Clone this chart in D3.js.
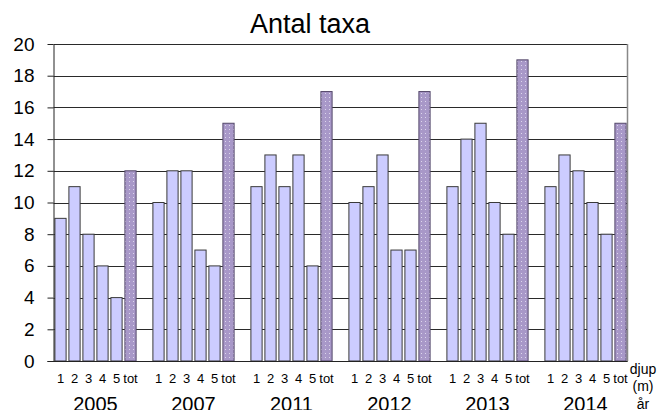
<!DOCTYPE html>
<html>
<head>
<meta charset="utf-8">
<script src="https://cdn.jsdelivr.net/npm/d3@7"></script>
<style>
  html, body { margin: 0; padding: 0; background: #fff; }
  svg { display: block; font-family: Arial, "Liberation Sans", sans-serif; }
</style>
</head>
<body>
<svg id="chart" width="658" height="410"></svg>
<script>
// Number of taxa per sampling depth (1–5 m) and in total, per year
const years = ["2005", "2007", "2011", "2012", "2013", "2014"];
const depths = ["1", "2", "3", "4", "5", "tot"];
const values2005 = [9, 11, 8, 6, 4, 12];
const values2007 = [10, 12, 12, 7, 6, 15];
const values2011 = [11, 13, 11, 13, 6, 17];
const values2012 = [10, 11, 13, 7, 7, 17];
const values2013 = [11, 14, 15, 10, 8, 19];
const values2014 = [11, 13, 12, 10, 8, 15];
const seriesByYear = [values2005, values2007, values2011, values2012, values2013, values2014];
const yTicks = [0, 2, 4, 6, 8, 10, 12, 14, 16, 18, 20];

const svg = d3.select("#chart");
const plot = { left: 53.5, right: 627.5, top: 44, bottom: 361 };

// One slot per bar, with an empty slot separating consecutive years
const slots = [];
years.forEach((yr, i) => {
  depths.forEach(d => slots.push(yr + "|" + d));
  if (i < years.length - 1) slots.push(yr + "|gap");
});

const x = d3.scaleBand()
  .domain(slots)
  .range([plot.left, plot.right])
  .paddingInner(0.2)
  .paddingOuter(0.1);

const y = d3.scaleLinear().domain([0, 20]).range([plot.bottom, plot.top]);

// Dotted fill for the total bars
const defs = svg.append("defs");
const pat = defs.append("pattern")
  .attr("id", "dots")
  .attr("patternUnits", "userSpaceOnUse")
  .attr("width", 4).attr("height", 4);
pat.append("rect").attr("width", 4).attr("height", 4).attr("fill", "#a898c8");
pat.append("rect").attr("x", 1).attr("y", 1).attr("width", 1).attr("height", 1).attr("fill", "#ddd6ec");

// Horizontal gridlines
svg.append("g")
  .selectAll("line")
  .data(yTicks)
  .join("line")
  .attr("x1", plot.left)
  .attr("x2", plot.right)
  .attr("y1", d => Math.round(y(d)) + 0.5)
  .attr("y2", d => Math.round(y(d)) + 0.5)
  .attr("stroke", "#2a2a2a")
  .attr("stroke-width", 1);

// Right border of the plot area
svg.append("line")
  .attr("x1", plot.right).attr("x2", plot.right)
  .attr("y1", plot.top).attr("y2", plot.bottom)
  .attr("stroke", "#888").attr("stroke-width", 1.5);

// Bars
const barData = [];
years.forEach((yr, i) => {
  depths.forEach((d, j) => barData.push({ key: yr + "|" + d, depth: d, value: seriesByYear[i][j] }));
});

svg.append("g")
  .selectAll("rect")
  .data(barData)
  .join("rect")
  .attr("x", d => x(d.key))
  .attr("width", x.bandwidth())
  .attr("y", d => y(d.value))
  .attr("height", d => y(0) - y(d.value))
  .attr("fill", d => d.depth === "tot" ? "url(#dots)" : "#ccccff")
  .attr("stroke", d => d.depth === "tot" ? "#54486a" : "#3a3a3a")
  .attr("stroke-width", 1);

// Y axis
const yAxis = svg.append("g")
  .attr("transform", `translate(${plot.left},0)`)
  .call(d3.axisLeft(y).tickValues(yTicks).tickSize(6).tickPadding(13).tickSizeOuter(0));
yAxis.select(".domain").attr("stroke", "#222");
yAxis.selectAll(".tick line").attr("stroke", "#222");
yAxis.selectAll(".tick text")
  .attr("font-size", 19)
  .attr("font-family", "Arial, 'Liberation Sans', sans-serif")
  .attr("fill", "#000");

// X axis baseline
svg.append("line")
  .attr("x1", plot.left - 6).attr("x2", plot.right)
  .attr("y1", plot.bottom + 0.5).attr("y2", plot.bottom + 0.5)
  .attr("stroke", "#222");

// Depth labels under each bar
svg.append("g")
  .selectAll("text")
  .data(barData)
  .join("text")
  .attr("x", d => x(d.key) + x.bandwidth() / 2)
  .attr("y", 383)
  .attr("text-anchor", "middle")
  .attr("font-size", 13)
  .text(d => d.depth);

// Year labels centred under each group
svg.append("g")
  .selectAll("text")
  .data(years)
  .join("text")
  .attr("x", yr => (x(yr + "|1") + x(yr + "|tot") + x.bandwidth()) / 2)
  .attr("y", 411)
  .attr("text-anchor", "middle")
  .attr("font-size", 20)
  .text(yr => yr);

// Axis captions at the right end
const cap = svg.append("g").attr("font-size", 14).attr("text-anchor", "middle");
cap.append("text").attr("x", 643).attr("y", 374).text("djup");
cap.append("text").attr("x", 643).attr("y", 391).text("(m)");
cap.append("text").attr("x", 643).attr("y", 409).text("år");

// Title
svg.append("text")
  .attr("x", 310)
  .attr("y", 33)
  .attr("text-anchor", "middle")
  .attr("font-size", 27)
  .text("Antal taxa");
</script>
</body>
</html>
